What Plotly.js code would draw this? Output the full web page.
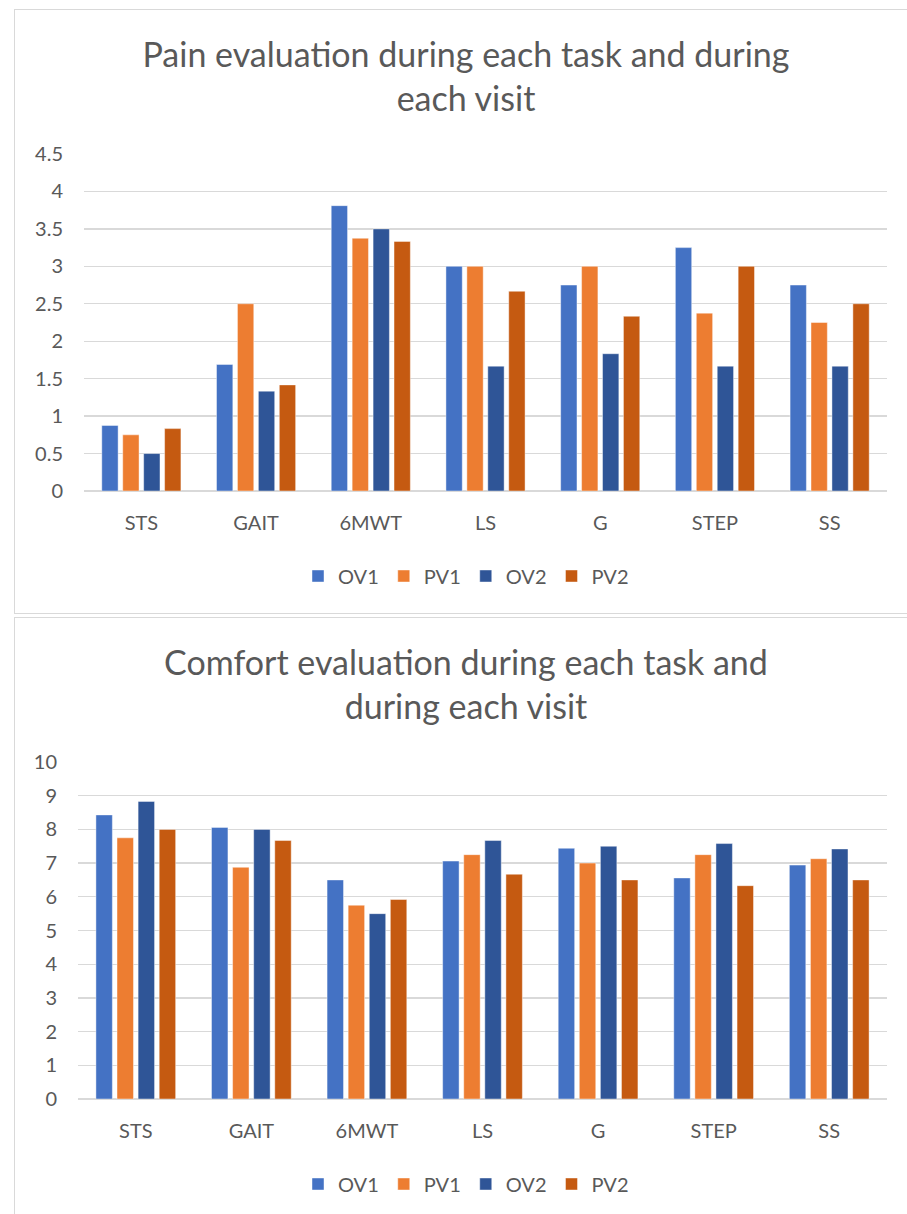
<!DOCTYPE html>
<html>
<head>
<meta charset="utf-8">
<script src="https://cdn.plot.ly/plotly-3.0.1.min.js"></script>
<style>
  html, body { margin: 0; padding: 0; background: #fff; overflow: hidden; width: 907px; height: 1214px; }
  .box { position: absolute; left: 14px; width: 902px; border: 1px solid #d9d9d9; background: #fff; box-sizing: content-box; }
  #pain { top: 9px; height: 603px; }
  #comfort { top: 617px; height: 603px; }
</style>
</head>
<body>
<div id="pain" class="box"></div>
<div id="comfort" class="box"></div>
<script>
// Tasks on the x axis
const tasks = ['STS', 'GAIT', '6MWT', 'LS', 'G', 'STEP', 'SS'];
const seriesNames = ['OV1', 'PV1', 'OV2', 'PV2'];
const seriesColors = ['#4472C4', '#ED7D31', '#2F5597', '#C55A11'];

// Pain scores per task and visit
const painOV1 = [0.875, 1.69, 3.81, 3.0, 2.75, 3.25, 2.75];
const painPV1 = [0.75, 2.5, 3.375, 3.0, 3.0, 2.375, 2.25];
const painOV2 = [0.5, 1.333, 3.5, 1.667, 1.833, 1.667, 1.667];
const painPV2 = [0.833, 1.417, 3.333, 2.667, 2.333, 3.0, 2.5];

// Comfort scores per task and visit
const comfortOV1 = [8.43, 8.06, 6.5, 7.06, 7.44, 6.56, 6.94];
const comfortPV1 = [7.75, 6.875, 5.75, 7.25, 7.0, 7.25, 7.13];
const comfortOV2 = [8.83, 8.0, 5.5, 7.67, 7.5, 7.58, 7.42];
const comfortPV2 = [8.0, 7.67, 5.92, 6.67, 6.5, 6.33, 6.5];

// Axis tick values
const painTicks = [0, 0.5, 1, 1.5, 2, 2.5, 3, 3.5, 4, 4.5];
const painTickText = ['0', '0.5', '1', '1.5', '2', '2.5', '3', '3.5', '4', '4.5'];
const comfortTicks = [0, 1, 2, 3, 4, 5, 6, 7, 8, 9, 10];

const FONT = 'Lato, "Open Sans", sans-serif';
const TEXT = '#595959';
const GRID = '#d9d9d9';
const H = 603;

function traces(values) {
  return values.map((v, i) => ({
    type: 'bar',
    name: seriesNames[i],
    x: tasks,
    y: v,
    marker: { color: seriesColors[i], line: { color: 'rgba(255,255,255,0.55)', width: 0.8 } },
    hoverinfo: 'x+y+name'
  }));
}

function layout(title, range, tickvals, ticktext, leftMargin) {
  return {
    width: 902,
    height: H,
    paper_bgcolor: '#fff',
    plot_bgcolor: '#fff',
    font: { family: FONT, color: TEXT, size: 20 },
    title: {
      text: title,
      font: { family: FONT, size: 34, color: TEXT },
      x: 0.5, xref: 'container', xanchor: 'center',
      y: 1 - 57 / H, yref: 'container', yanchor: 'middle'
    },
    margin: { l: leftMargin, r: 30, t: 144, b: 122 },
    barmode: 'group',
    bargap: 0.27,
    bargroupgap: 0.22,
    showlegend: true,
    legend: {
      orientation: 'h',
      xref: 'container', x: 0.5, xanchor: 'center',
      yref: 'container', y: 1 - 566 / H, yanchor: 'middle',
      font: { family: FONT, size: 20, color: TEXT },
      itemwidth: 30,
      traceorder: 'normal'
    },
    xaxis: {
      type: 'category',
      showgrid: false,
      showline: false,
      ticks: '',
      ticklabelstandoff: 18,
      tickfont: { family: FONT, size: 20, color: TEXT },
      fixedrange: true
    },
    yaxis: {
      range: range,
      tickvals: tickvals,
      ticktext: ticktext,
      showgrid: true,
      gridcolor: GRID,
      gridwidth: 1.4,
      zeroline: true,
      zerolinecolor: GRID,
      zerolinewidth: 1.4,
      showline: false,
      ticks: '',
      ticklabelstandoff: 20,
      tickfont: { family: FONT, size: 20, color: TEXT },
      fixedrange: true
    }
  };
}

const config = { displayModeBar: false, staticPlot: true };

Plotly.newPlot('pain',
  traces([painOV1, painPV1, painOV2, painPV2]),
  layout('Pain evaluation during each task and during<br>each visit', [0, 4.5], painTicks, painTickText, 69),
  config);

Plotly.newPlot('comfort',
  traces([comfortOV1, comfortPV1, comfortOV2, comfortPV2]),
  layout('Comfort evaluation during each task and<br>during each visit', [0, 10], comfortTicks, comfortTicks.map(String), 63),
  config);
</script>
</body>
</html>
